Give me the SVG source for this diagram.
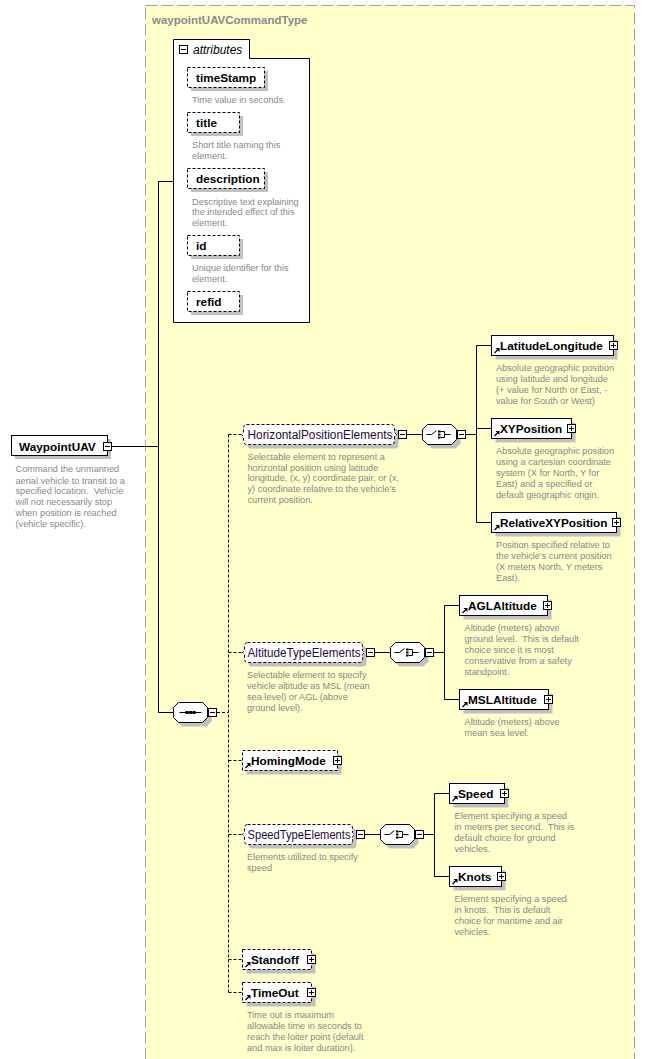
<svg xmlns="http://www.w3.org/2000/svg" xmlns:xlink="http://www.w3.org/1999/xlink" width="654" height="1059" viewBox="0 0 654 1059">
<style>
.bg{fill:#ffffcc;stroke:#a0a0a0;stroke-width:1;stroke-dasharray:12,4}
.box{fill:#fff;stroke:#000;stroke-width:1}
.opt{fill:#fff;stroke:#000;stroke-width:1;stroke-dasharray:3,2}
.sh{fill:#c0c0c0;stroke:none}
.ln{stroke:#000;stroke-width:1;fill:none}
.dl{stroke:#000;stroke-width:1;fill:none;stroke-dasharray:3,2}
.nm{font-family:"Liberation Sans",Arial,sans-serif;font-size:11.8px;font-weight:bold;fill:#000}
.gn{font-family:"Liberation Sans",Arial,sans-serif;font-size:12px;fill:#1f0a3c}
.ds{font-family:"Liberation Sans",Arial,sans-serif;font-size:9.2px;fill:#888;white-space:pre}
.ti{font-family:"Liberation Sans",Arial,sans-serif;font-size:11.5px;font-weight:bold;fill:#8a8a8a}
.at{font-family:"Liberation Sans",Arial,sans-serif;font-size:12px;font-style:italic;fill:#000}
</style>
<defs>
<g id="minus"><rect x="0.5" y="0.5" width="8" height="8" fill="#fff" stroke="#000"/><path d="M2,4.5H7" stroke="#000"/></g>
<g id="plus"><rect x="0.5" y="0.5" width="8" height="8" fill="#fff" stroke="#000"/><path d="M2,4.5H7M4.5,2V7" stroke="#000"/></g>
<path id="oct" d="M5,-10H29L34,-5V5L29,10H5L0,5V-5Z"/>
<g id="choice">
<use xlink:href="#oct" class="sh" transform="translate(4,4)"/>
<use xlink:href="#oct" fill="#fff" stroke="#000"/>
<path d="M4,0H9L14,-4M18,-3H22V3H18M22,0H28" stroke="#000" fill="none"/>
<rect x="15.5" y="-4" width="2.5" height="2" fill="#000"/>
<rect x="15.5" y="-1" width="2.5" height="2" fill="#000"/>
<rect x="15.5" y="2" width="2.5" height="2" fill="#000"/>
</g>
<g id="seq">
<use xlink:href="#oct" class="sh" transform="translate(4,4)"/>
<use xlink:href="#oct" fill="#fff" stroke="#000"/>
<path d="M6,0H28" stroke="#000"/>
<rect x="12" y="-1.5" width="3" height="3" fill="#000"/>
<rect x="15.5" y="-1.5" width="3" height="3" fill="#000"/>
<rect x="19" y="-1.5" width="3" height="3" fill="#000"/>
</g>
<g id="ra"><path d="M0.5,5L4,1.5" stroke="#000" stroke-width="1.3"/><polygon points="1.5,0 5.5,0 5.5,4" fill="#000"/></g>
</defs>

<rect class="bg" x="145.5" y="5.5" width="489" height="1070"/>
<text class="ti" x="152" y="24">waypointUAVCommandType</text>

<g id="connectors">
<path class="ln" d="M158.5,181.5H173.5M158.5,181.5V712.5H173.5M112,446.5H158.5"/>
<path class="dl" d="M217,712.5H228.5M228.5,434.5V992.5M228.5,434.5H242M228.5,652.5H242.5M228.5,760.5H242.5M228.5,834.5H242.5M228.5,959.5H242.5M228.5,992.5H242.5"/>
<path class="ln" d="M407,434.5H422.5M466,434.5H476.5M476.5,345.5V522.5M476.5,345.5H491.5M476.5,428.5H491.5M476.5,522.5H491.5"/>
<path class="ln" d="M375,652.5H390.5M434,652.5H444.5M444.5,605.5V699.5M444.5,605.5H459.5M444.5,699.5H459.5"/>
<path class="ln" d="M365,834.5H380.5M424,834.5H434.5M434.5,793.5V876.5M434.5,793.5H449.5M434.5,876.5H449.5"/>
</g>

<g id="attributes">
<path class="box" d="M173.5,322.5V39.5H249.5V58.5H309.5V322.5Z"/>
<use xlink:href="#minus" transform="translate(179,45)"/>
<text class="at" x="193" y="54">attributes</text>
<g id="attr-timeStamp">
<rect class="sh" x="191" y="71" width="77" height="20"/>
<rect class="opt" x="187.5" y="67.5" width="77" height="20"/>
<text class="nm" x="196" y="82">timeStamp</text>
<text class="ds" x="192" y="103">Time value in seconds.</text>
</g>
<g id="attr-title">
<rect class="sh" x="191" y="116" width="52" height="20"/>
<rect class="opt" x="187.5" y="112.5" width="52" height="20"/>
<text class="nm" x="196" y="127">title</text>
<text class="ds" x="192" y="148">Short title naming this</text>
<text class="ds" x="192" y="158.5">element.</text>
</g>
<g id="attr-description">
<rect class="sh" x="191" y="172" width="77" height="20"/>
<rect class="opt" x="187.5" y="168.5" width="77" height="20"/>
<text class="nm" x="196" y="183">description</text>
<text class="ds" x="192" y="204.5">Descriptive text explaining</text>
<text class="ds" x="192" y="215.3">the intended effect of this</text>
<text class="ds" x="192" y="225.8">element.</text>
</g>
<g id="attr-id">
<rect class="sh" x="191" y="239" width="52" height="20"/>
<rect class="opt" x="187.5" y="235.5" width="52" height="20"/>
<text class="nm" x="196" y="250">id</text>
<text class="ds" x="192" y="271">Unique identifier for this</text>
<text class="ds" x="192" y="281.7">element.</text>
</g>
<g id="attr-refid">
<rect class="sh" x="191" y="295" width="52" height="20"/>
<rect class="opt" x="187.5" y="291.5" width="52" height="20"/>
<text class="nm" x="196" y="306">refid</text>
</g>
</g>

<g id="WaypointUAV">
<rect class="sh" x="15" y="439" width="96" height="20"/>
<rect class="box" x="11.5" y="435.5" width="96" height="20"/>
<text class="nm" x="19" y="450.5">WaypointUAV</text>
<use xlink:href="#minus" transform="translate(103,442)"/>
<text class="ds" x="15.5" y="472.3">Command the unmanned</text>
<text class="ds" x="15.5" y="483.6">aerial vehicle to transit to a</text>
<text class="ds" x="15.5" y="494.3">specified location.  Vehicle</text>
<text class="ds" x="15.5" y="505">will not necessarily stop</text>
<text class="ds" x="15.5" y="516">when position is reached</text>
<text class="ds" x="15.5" y="527">(vehicle specific).</text>
</g>

<g id="sequence">
<use xlink:href="#seq" transform="translate(173.5,712.5)"/>
<use xlink:href="#minus" transform="translate(208,708)"/>
</g>

<g id="HorizontalPositionElements">
<path class="sh" transform="translate(4,4)" d="M246.5,424.5H391.5Q394.5,424.5 394.5,428.5V432.5L396.5,434.5L394.5,436.5V440.5Q394.5,444.5 391.5,444.5H246.5Q243.5,444.5 243.5,440.5V436.5L241.5,434.5L243.5,432.5V428.5Q243.5,424.5 246.5,424.5Z"/>
<path class="opt" d="M246.5,424.5H391.5Q394.5,424.5 394.5,428.5V432.5L396.5,434.5L394.5,436.5V440.5Q394.5,444.5 391.5,444.5H246.5Q243.5,444.5 243.5,440.5V436.5L241.5,434.5L243.5,432.5V428.5Q243.5,424.5 246.5,424.5Z"/>
<text class="gn" x="247.5" y="438.7" textLength="145" lengthAdjust="spacingAndGlyphs">HorizontalPositionElements</text>
<use xlink:href="#minus" transform="translate(398,430)"/>
<use xlink:href="#choice" transform="translate(422.5,434.5)"/>
<use xlink:href="#minus" transform="translate(457,430)"/>
<text class="ds" x="247.5" y="460">Selectable element to represent a</text>
<text class="ds" x="247.5" y="470.6">horizontal position using latitude</text>
<text class="ds" x="247.5" y="481.3">longitude, (x, y) coordinate pair, or (x,</text>
<text class="ds" x="247.5" y="492.3">y) coordinate relative to the vehicle's</text>
<text class="ds" x="247.5" y="503.3">current position.</text>
</g>

<g id="LatitudeLongitude">
<rect class="sh" x="495.5" y="339.5" width="122" height="20"/>
<rect class="box" x="491.5" y="335.5" width="122" height="20"/>
<use xlink:href="#ra" transform="translate(494,348)"/>
<text class="nm" x="500" y="350">LatitudeLongitude</text>
<use xlink:href="#plus" transform="translate(609,341)"/>
<text class="ds" x="496" y="371">Absolute geographic position</text>
<text class="ds" x="496" y="382">using latitude and longitude</text>
<text class="ds" x="496" y="393">(+ value for North or East, -</text>
<text class="ds" x="496" y="404">value for South or West)</text>
</g>

<g id="XYPosition">
<rect class="sh" x="495.5" y="422.5" width="80" height="20"/>
<rect class="box" x="491.5" y="418.5" width="80" height="20"/>
<use xlink:href="#ra" transform="translate(494,431)"/>
<text class="nm" x="500" y="433">XYPosition</text>
<use xlink:href="#plus" transform="translate(567,424)"/>
<text class="ds" x="496" y="453.6">Absolute geographic position</text>
<text class="ds" x="496" y="464.6">using a cartesian coordinate</text>
<text class="ds" x="496" y="476">system (X for North, Y for</text>
<text class="ds" x="496" y="487.3">East) and a specified or</text>
<text class="ds" x="496" y="498">default geographic origin.</text>
</g>

<g id="RelativeXYPosition">
<rect class="sh" x="495.5" y="516.5" width="125" height="20"/>
<rect class="box" x="491.5" y="512.5" width="125" height="20"/>
<use xlink:href="#ra" transform="translate(494,525)"/>
<text class="nm" x="500" y="527">RelativeXYPosition</text>
<use xlink:href="#plus" transform="translate(612,518)"/>
<text class="ds" x="496" y="548">Position specified relative to</text>
<text class="ds" x="496" y="559">the vehicle's current position</text>
<text class="ds" x="496" y="570.3">(X meters North, Y meters</text>
<text class="ds" x="496" y="581">East).</text>
</g>

<g id="AltitudeTypeElements">
<path class="sh" transform="translate(4,4)" d="M247.5,642.5H359.5Q362.5,642.5 362.5,646.5V650.5L364.5,652.5L362.5,654.5V658.5Q362.5,662.5 359.5,662.5H247.5Q244.5,662.5 244.5,658.5V654.5L242.5,652.5L244.5,650.5V646.5Q244.5,642.5 247.5,642.5Z"/>
<path class="opt" d="M247.5,642.5H359.5Q362.5,642.5 362.5,646.5V650.5L364.5,652.5L362.5,654.5V658.5Q362.5,662.5 359.5,662.5H247.5Q244.5,662.5 244.5,658.5V654.5L242.5,652.5L244.5,650.5V646.5Q244.5,642.5 247.5,642.5Z"/>
<text class="gn" x="247.5" y="656.7" textLength="113" lengthAdjust="spacingAndGlyphs">AltitudeTypeElements</text>
<use xlink:href="#minus" transform="translate(366,648)"/>
<use xlink:href="#choice" transform="translate(390.5,652.5)"/>
<use xlink:href="#minus" transform="translate(425,648)"/>
<text class="ds" x="247" y="678">Selectable element to specify</text>
<text class="ds" x="247" y="689">vehicle altitude as MSL (mean</text>
<text class="ds" x="247" y="700">sea level) or AGL (above</text>
<text class="ds" x="247" y="711">ground level).</text>
</g>

<g id="AGLAltitude">
<rect class="sh" x="463.5" y="599.5" width="88" height="20"/>
<rect class="box" x="459.5" y="595.5" width="88" height="20"/>
<use xlink:href="#ra" transform="translate(462,608)"/>
<text class="nm" x="468" y="610">AGLAltitude</text>
<use xlink:href="#plus" transform="translate(543,601)"/>
<text class="ds" x="464.5" y="631">Altitude (meters) above</text>
<text class="ds" x="464.5" y="642">ground level.  This is default</text>
<text class="ds" x="464.5" y="653">choice since it is most</text>
<text class="ds" x="464.5" y="664">conservative from a safety</text>
<text class="ds" x="464.5" y="675">standpoint.</text>
</g>

<g id="MSLAltitude">
<rect class="sh" x="463.5" y="693.5" width="89" height="20"/>
<rect class="box" x="459.5" y="689.5" width="89" height="20"/>
<use xlink:href="#ra" transform="translate(462,702)"/>
<text class="nm" x="468" y="704">MSLAltitude</text>
<use xlink:href="#plus" transform="translate(544,695)"/>
<text class="ds" x="464.5" y="725">Altitude (meters) above</text>
<text class="ds" x="464.5" y="736">mean sea level.</text>
</g>

<g id="HomingMode">
<rect class="sh" x="246.5" y="754.5" width="95" height="20"/>
<rect class="opt" x="242.5" y="750.5" width="95" height="20"/>
<use xlink:href="#ra" transform="translate(245,763)"/>
<text class="nm" x="251" y="765">HomingMode</text>
<use xlink:href="#plus" transform="translate(333,756)"/>
</g>

<g id="SpeedTypeElements">
<path class="sh" transform="translate(4,4)" d="M247.5,824.5H349.5Q352.5,824.5 352.5,828.5V832.5L354.5,834.5L352.5,836.5V840.5Q352.5,844.5 349.5,844.5H247.5Q244.5,844.5 244.5,840.5V836.5L242.5,834.5L244.5,832.5V828.5Q244.5,824.5 247.5,824.5Z"/>
<path class="opt" d="M247.5,824.5H349.5Q352.5,824.5 352.5,828.5V832.5L354.5,834.5L352.5,836.5V840.5Q352.5,844.5 349.5,844.5H247.5Q244.5,844.5 244.5,840.5V836.5L242.5,834.5L244.5,832.5V828.5Q244.5,824.5 247.5,824.5Z"/>
<text class="gn" x="247.5" y="838.7" textLength="103" lengthAdjust="spacingAndGlyphs">SpeedTypeElements</text>
<use xlink:href="#minus" transform="translate(356,830)"/>
<use xlink:href="#choice" transform="translate(380.5,834.5)"/>
<use xlink:href="#minus" transform="translate(415,830)"/>
<text class="ds" x="247" y="860">Elements utilized to specify</text>
<text class="ds" x="247" y="871">speed</text>
</g>

<g id="Speed">
<rect class="sh" x="453.5" y="787.5" width="55" height="20"/>
<rect class="box" x="449.5" y="783.5" width="55" height="20"/>
<use xlink:href="#ra" transform="translate(452,796)"/>
<text class="nm" x="458" y="798">Speed</text>
<use xlink:href="#plus" transform="translate(500,789)"/>
<text class="ds" x="454.5" y="819">Element specifying a speed</text>
<text class="ds" x="454.5" y="830">in meters per second.  This is</text>
<text class="ds" x="454.5" y="841">default choice for ground</text>
<text class="ds" x="454.5" y="852">vehicles.</text>
</g>

<g id="Knots">
<rect class="sh" x="453.5" y="870.5" width="52" height="20"/>
<rect class="box" x="449.5" y="866.5" width="52" height="20"/>
<use xlink:href="#ra" transform="translate(452,879)"/>
<text class="nm" x="458" y="881">Knots</text>
<use xlink:href="#plus" transform="translate(497,872)"/>
<text class="ds" x="454.5" y="902">Element specifying a speed</text>
<text class="ds" x="454.5" y="913">in knots.  This is default</text>
<text class="ds" x="454.5" y="924">choice for maritime and air</text>
<text class="ds" x="454.5" y="935">vehicles.</text>
</g>

<g id="Standoff">
<rect class="sh" x="246.5" y="953.5" width="69" height="20"/>
<rect class="opt" x="242.5" y="949.5" width="69" height="20"/>
<use xlink:href="#ra" transform="translate(245,962)"/>
<text class="nm" x="251" y="964">Standoff</text>
<use xlink:href="#plus" transform="translate(307,955)"/>
</g>

<g id="TimeOut">
<rect class="sh" x="246.5" y="986.5" width="69" height="20"/>
<rect class="opt" x="242.5" y="982.5" width="69" height="20"/>
<use xlink:href="#ra" transform="translate(245,995)"/>
<text class="nm" x="251" y="997">TimeOut</text>
<use xlink:href="#plus" transform="translate(307,988)"/>
<text class="ds" x="247" y="1017.6">Time out is maximum</text>
<text class="ds" x="247" y="1029">allowable time in seconds to</text>
<text class="ds" x="247" y="1040">reach the loiter point (default</text>
<text class="ds" x="247" y="1051">and max is loiter duration).</text>
</g>
</svg>
